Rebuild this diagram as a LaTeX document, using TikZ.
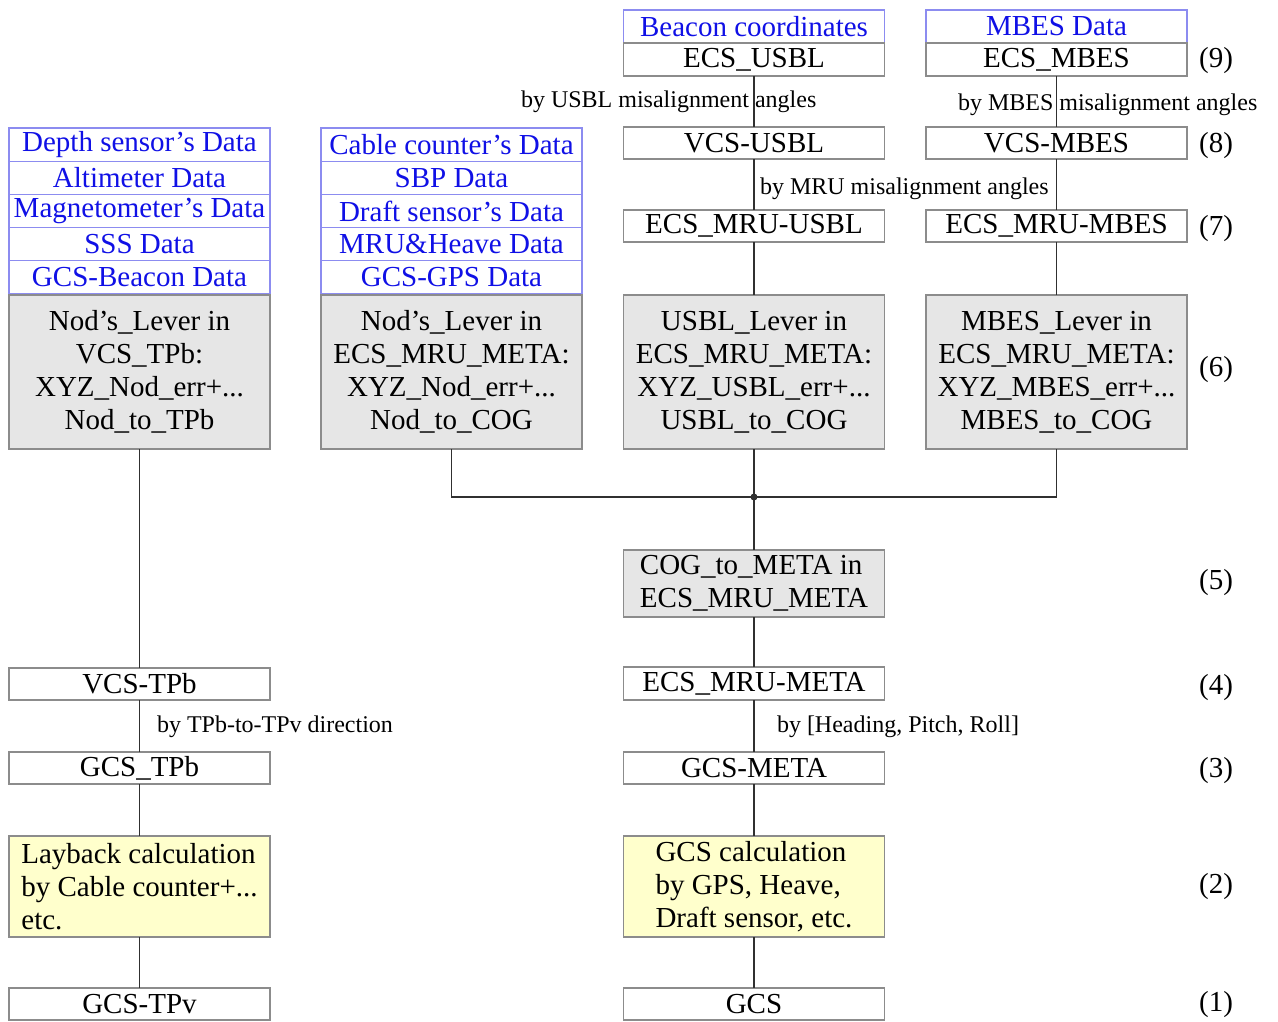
\documentclass[tikz,border=0pt]{standalone}
\usepackage{fontspec}
\setmainfont{Liberation Serif}
\definecolor{boxline}{HTML}{8C8C8C}
\definecolor{dataline}{HTML}{8C8CF0}
\definecolor{datatext}{HTML}{1010E6}
\definecolor{leverfill}{HTML}{E6E6E6}
\definecolor{calcfill}{HTML}{FFFFCC}
\definecolor{wire}{HTML}{303030}
\tikzset{
  x=1pt, y=-1pt,
  every node/.style={inner sep=0pt, outer sep=0pt},
  bigtxt/.style={font=\fontsize{29pt}{33pt}\selectfont},
  smalltxt/.style={font=\fontsize{24pt}{28pt}\selectfont},
  datarow/.style={bigtxt, draw=dataline, line width=1.2pt, text=datatext, fill=white,
    minimum width=261pt, minimum height=33.2pt},
  plainbox/.style={bigtxt, draw=boxline, line width=1.5pt, fill=white,
    minimum width=261pt, minimum height=32pt},
  leverbox/.style={bigtxt, draw=boxline, line width=1.5pt, fill=leverfill, align=center,
    minimum width=261pt, minimum height=154pt},
  cogbox/.style={bigtxt, draw=boxline, line width=1.5pt, fill=leverfill, align=left,
    minimum width=261pt, minimum height=67pt},
  calcbox/.style={bigtxt, draw=boxline, line width=1.5pt, fill=calcfill, align=left,
    minimum width=261pt, minimum height=101pt},
  steplabel/.style={bigtxt},
  wirelabel/.style={smalltxt, anchor=west},
  wireline/.style={draw=wire, line width=1.4pt},
}
\begin{document}
\begin{tikzpicture}
\useasboundingbox (0,0) rectangle (1278,1021);

% junction where the lever arms meet
\coordinate (J) at (754,497);

% ---- left column: towed body chain
\node[datarow] (a1) at (139.5,144.6) {Depth sensor’s Data};
\node[datarow] (a2) at (139.5,177.8) {Altimeter Data};
\node[datarow] (a3) at (139.5,211.0) {Magnetometer’s Data};
\node[datarow] (a4) at (139.5,244.2) {SSS Data};
\node[datarow] (a5) at (139.5,277.4) {GCS-Beacon Data};
\node[leverbox] (a6) at (139.5,372) {Nod’s\_Lever in\\VCS\_TPb:\\XYZ\_Nod\_err+...\\Nod\_to\_TPb};
\node[plainbox] (a7) at (139.5,684) {VCS-TPb};
\node[plainbox] (a8) at (139.5,768) {GCS\_TPb};
\node[calcbox] (a9) at (139.5,886.5) {Layback calculation\\by Cable counter+...\\etc.};
\node[plainbox] (a10) at (139.5,1004) {GCS-TPv};

% ---- second column: vessel sensors
\node[datarow] (b1) at (451.5,144.6) {Cable counter’s Data};
\node[datarow] (b2) at (451.5,177.8) {SBP Data};
\node[datarow] (b3) at (451.5,211.0) {Draft sensor’s Data};
\node[datarow] (b4) at (451.5,244.2) {MRU\&Heave Data};
\node[datarow] (b5) at (451.5,277.4) {GCS-GPS Data};
\node[leverbox] (b6) at (451.5,372) {Nod’s\_Lever in\\ECS\_MRU\_META:\\XYZ\_Nod\_err+...\\Nod\_to\_COG};

% ---- third column: USBL and main vessel chain
\node[datarow] (c1) at (754,26.5) {Beacon coordinates};
\node[plainbox, minimum height=33pt] (c2) at (754,59.5) {ECS\_USBL};
\node[plainbox] (c3) at (754,143) {VCS-USBL};
\node[plainbox] (c4) at (754,226) {ECS\_MRU-USBL};
\node[leverbox] (c5) at (754,372) {USBL\_Lever in\\ECS\_MRU\_META:\\XYZ\_USBL\_err+...\\USBL\_to\_COG};
\node[cogbox] (c6) at (754,583.5) {COG\_to\_META in\\ECS\_MRU\_META};
\node[plainbox, minimum height=33pt] (c7) at (754,683.5) {ECS\_MRU-META};
\node[plainbox] (c8) at (754,768) {GCS-META};
\node[calcbox] (c9) at (754,886.5) {GCS calculation\\by GPS, Heave,\\Draft sensor, etc.};
\node[plainbox] (c10) at (754,1004) {GCS};

% ---- fourth column: MBES chain
\node[datarow] (d1) at (1056.5,26.5) {MBES Data};
\node[plainbox, minimum height=33pt] (d2) at (1056.5,59.5) {ECS\_MBES};
\node[plainbox] (d3) at (1056.5,143) {VCS-MBES};
\node[plainbox] (d4) at (1056.5,226) {ECS\_MRU-MBES};
\node[leverbox] (d5) at (1056.5,372) {MBES\_Lever in\\ECS\_MRU\_META:\\XYZ\_MBES\_err+...\\MBES\_to\_COG};

% ---- connectors
\draw[wireline] (a6.south) -- (a7.north);
\draw[wireline] (a7.south) -- (a8.north);
\draw[wireline] (a8.south) -- (a9.north);
\draw[wireline] (a9.south) -- (a10.north);
\draw[wireline] (c2.south) -- (c3.north);
\draw[wireline] (c3.south) -- (c4.north);
\draw[wireline] (c4.south) -- (c5.north);
\draw[wireline] (c5.south) -- (J) -- (c6.north);
\draw[wireline] (c6.south) -- (c7.north);
\draw[wireline] (c7.south) -- (c8.north);
\draw[wireline] (c8.south) -- (c9.north);
\draw[wireline] (c9.south) -- (c10.north);
\draw[wireline] (d2.south) -- (d3.north);
\draw[wireline] (d3.south) -- (d4.north);
\draw[wireline] (d4.south) -- (d5.north);
\draw[wireline] (b6.south) -- (b6.south |- J) -- (J);
\draw[wireline] (d5.south) -- (d5.south |- J) -- (J);
\fill[wire] (J) circle[radius=3.5pt];

% ---- connector labels
\node[wirelabel] (l1) at (521,102) {by USBL misalignment angles};
\node[wirelabel] (l2) at (958,105) {by MBES misalignment angles};
\node[wirelabel] (l3) at (760,189) {by MRU misalignment angles};
\node[wirelabel] (l4) at (157,727) {by TPb-to-TPv direction};
\node[wirelabel] (l5) at (777,727) {by [Heading, Pitch, Roll]};

% ---- step numbers
\node[steplabel] (s9) at (1216,61) {(9)};
\node[steplabel] (s8) at (1216,146) {(8)};
\node[steplabel] (s7) at (1216,229) {(7)};
\node[steplabel] (s6) at (1216,370) {(6)};
\node[steplabel] (s5) at (1216,583) {(5)};
\node[steplabel] (s4) at (1216,688) {(4)};
\node[steplabel] (s3) at (1216,771) {(3)};
\node[steplabel] (s2) at (1216,887) {(2)};
\node[steplabel] (s1) at (1216,1005) {(1)};
\end{tikzpicture}
\end{document}
